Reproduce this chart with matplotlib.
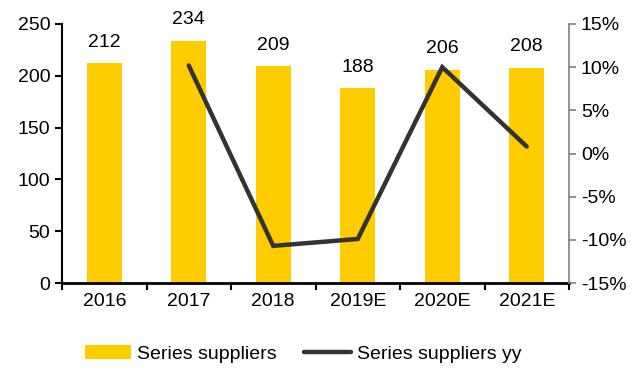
import numpy as np
import matplotlib.pyplot as plt
from matplotlib.ticker import FuncFormatter

plt.rcParams['font.family'] = ['Liberation Sans', 'DejaVu Sans']

years = ['2016', '2017', '2018', '2019E', '2020E', '2021E']
suppliers = [212, 234, 209, 188, 206, 208]
yy_years = ['2017', '2018', '2019E', '2020E', '2021E']
yy_pct = [10.2, -10.7, -9.9, 10.0, 0.8]

BAR_COLOR = '#FFCC00'
LINE_COLOR = '#333333'
FS = 14

fig = plt.figure(figsize=(6.37, 3.68), dpi=100)
ax = fig.add_axes([62 / 637, 1 - 283 / 368, (569 - 62) / 637, (283 - 24) / 368])
x = np.arange(len(years))
bars = ax.bar(x, suppliers, width=0.42, color=BAR_COLOR, label='Series suppliers')
for xi, v in zip(x, suppliers):
    ax.text(xi, v + 12, str(v), ha='center', va='bottom', fontsize=FS)

ax.set_xlim(-0.5, len(years) - 0.5)
ax.set_ylim(0, 250)
ax.set_yticks(range(0, 251, 50))
ax.set_xticks(np.arange(-0.5, len(years), 1), minor=False)
ax.set_xticklabels([])
ax.set_xticks(x, minor=True)
ax.set_xticklabels(years, minor=True)
ax.tick_params(axis='x', which='minor', length=0, labelsize=FS, pad=7)
ax.tick_params(axis='x', which='major', length=5, width=1.5, direction='out')
ax.tick_params(axis='y', labelsize=FS, length=5, width=1.5, direction='out')
ax.spines['top'].set_visible(False)
ax.spines['right'].set_visible(False)
ax.spines['left'].set_linewidth(1.5)
ax.spines['bottom'].set_linewidth(2)

ax2 = ax.twinx()
xi_yy = [years.index(y) for y in yy_years]
line, = ax2.plot(xi_yy, yy_pct, color=LINE_COLOR, lw=3.2, solid_capstyle='round',
                 solid_joinstyle='miter', label='Series suppliers yy')
ax2.set_ylim(-15, 15)
ax2.set_yticks(range(-15, 16, 5))
ax2.yaxis.set_major_formatter(FuncFormatter(lambda v, p: f'{v:.0f}%'))
ax2.tick_params(axis='y', labelsize=FS, length=5, width=1.2, color='#808080', direction='out')
for s in ['top', 'left', 'bottom']:
    ax2.spines[s].set_visible(False)
ax2.spines['right'].set_color('#808080')
ax2.spines['right'].set_linewidth(1.2)

fig.legend(handles=[bars, line], loc='center', bbox_to_anchor=(303 / 637, 1 - 354 / 368), ncol=2,
           frameon=False, fontsize=FS, handlelength=2.4, handletextpad=0.3, columnspacing=1.4)

fig.savefig('out.png', dpi=100)
